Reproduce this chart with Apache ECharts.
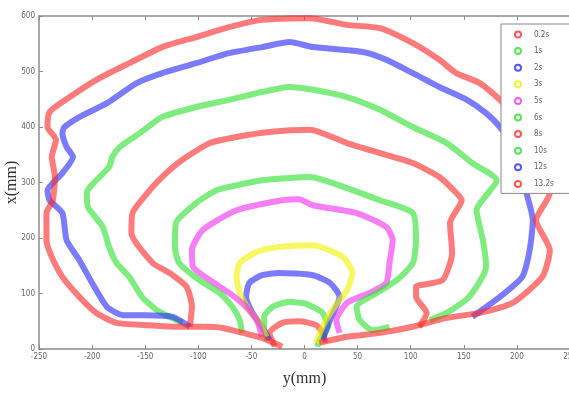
<!DOCTYPE html>
<html>
<head>
<meta charset="utf-8">
<script src="https://cdn.jsdelivr.net/npm/echarts@6.0.0/dist/echarts.min.js"></script>
<style>
    html, body { margin: 0; padding: 0; background: #fff; }
    #chart { width: 569px; height: 394px; }
</style>
</head>
<body>
<div id="chart"></div>
<script>
// 各时刻轮廓线 [y(mm), x(mm)]
var names = ['0.2s', '1s', '2s', '3s', '5s', '6s', '8s', '10s', '12s', '13.2s'];

var t02 = [[-28, 5], [-33, 29], [-21, 47], [-5, 50], [11, 43], [17, 29], [20, 11]];

var t1 = [[-35, 16], [-38, 38], [-38, 58], [-30, 76], [-14, 85], [2, 81], [17, 65], [22, 40], [14, 16], [12, 4]];

var t2 = [[-33, 16], [-40, 40], [-49, 65], [-55, 94], [-52, 119], [-40, 133], [-24, 137], [8, 133],
    [24, 119], [33, 94], [24, 52], [17, 16]];

var t3 = [[-36, 22], [-42, 47], [-52, 70], [-61, 101], [-64, 130], [-61, 155], [-45, 175], [-24, 184],
    [8, 187], [36, 166], [45, 137], [40, 106], [26, 70], [17, 40], [11, 11]];

var t5 = [[-40, 22], [-45, 52], [-55, 76], [-71, 101], [-89, 124], [-105, 148], [-106, 178], [-96, 214],
    [-64, 250], [-21, 268], [-5, 270], [8, 259], [49, 245], [77, 220], [83, 196], [80, 155], [77, 119],
    [61, 101], [40, 83], [30, 52], [33, 29]];

var t6 = [[-59, 29], [-61, 52], [-68, 76], [-80, 101], [-99, 124], [-118, 155], [-122, 184], [-121, 227],
    [-102, 263], [-83, 286], [-71, 292], [-40, 304], [5, 310], [40, 290], [71, 268], [102, 245], [105, 196],
    [102, 155], [87, 124], [68, 101], [49, 76], [52, 52], [64, 34], [80, 40]];

var t8 = [[-108, 40], [-106, 76], [-111, 112], [-127, 137], [-143, 155], [-163, 209], [-162, 245],
    [-151, 274], [-134, 310], [-115, 341], [-89, 371], [-64, 382], [-33, 391], [5, 395], [40, 371],
    [71, 353], [102, 335], [127, 310], [143, 281], [148, 268], [137, 227], [139, 173], [130, 124],
    [105, 112], [105, 94], [115, 65], [108, 40]];

var t10 = [[-115, 47], [-127, 58], [-139, 70], [-153, 94], [-165, 130], [-177, 155], [-184, 184],
    [-190, 220], [-204, 256], [-205, 281], [-184, 328], [-181, 346], [-174, 364], [-155, 389], [-134, 418],
    [-102, 436], [-71, 449], [-40, 463], [-14, 472], [8, 467], [40, 454], [71, 431], [102, 400],
    [134, 371], [158, 335], [181, 304], [162, 250], [168, 196], [171, 148], [155, 94], [134, 65], [118, 52]];

var t12 = [[-108, 40], [-124, 58], [-149, 61], [-171, 61], [-186, 76], [-200, 119], [-212, 160],
    [-224, 196], [-228, 245], [-240, 268], [-242, 286], [-237, 299], [-228, 317], [-218, 346], [-224, 364],
    [-228, 389], [-226, 400], [-212, 418], [-186, 443], [-158, 479], [-134, 497], [-102, 515], [-71, 533],
    [-40, 544], [-14, 553], [8, 544], [55, 535], [77, 521], [102, 497], [127, 472], [153, 449], [171, 425],
    [184, 400], [195, 368], [204, 322], [209, 281], [215, 232], [212, 178], [205, 130], [184, 94], [158, 58]];

var t132 = [[-21, 4], [-40, 20], [-58, 29], [-77, 38], [-96, 40], [-118, 40], [-149, 43], [-177, 47],
    [-196, 65], [-212, 94], [-228, 130], [-238, 166], [-243, 196], [-243, 245], [-237, 268], [-235, 310],
    [-238, 346], [-234, 377], [-242, 400], [-240, 427], [-221, 454], [-196, 485], [-165, 515], [-134, 544],
    [-102, 562], [-71, 580], [-40, 593], [5, 596], [40, 584], [71, 578], [102, 551], [127, 521], [143, 497],
    [165, 479], [184, 449], [202, 404], [218, 340], [229, 295], [231, 281], [218, 232], [231, 178],
    [224, 130], [196, 83], [165, 65], [134, 56], [102, 40], [71, 29], [40, 22], [14, 11]];

var xTicks = [-250, 250, 50];
var yTicks = [0, 600, 100];

var allData = [t02, t1, t2, t3, t5, t6, t8, t10, t12, t132];
var colors = ['#ff2a2a', '#2ee02e', '#2a2aff', '#f2f200', '#f030f0', '#2ee02e', '#ff2a2a', '#2ee02e', '#2a2aff', '#ff2a2a'];

var chart = echarts.init(document.getElementById('chart'));

var tickFont = '"DejaVu Sans Condensed", "Liberation Sans", sans-serif';

var axisCommon = {
    axisLine: { show: true, onZero: false, lineStyle: { color: '#8c8c8c', width: 1.5 } },
    axisTick: { show: true, inside: true, length: 4, lineStyle: { color: '#8c8c8c' } },
    splitLine: { show: false },
    axisLabel: { color: '#666', fontSize: 8, fontFamily: tickFont, margin: 4 }
};

var series = allData.map(function (d, i) {
    return {
        name: names[i],
        type: 'line',
        data: d,
        smooth: 0.2,
        showSymbol: false,
        symbol: 'emptyCircle',
        color: colors[i],
        lineStyle: { width: 6, opacity: 0.62, color: colors[i] },
        silent: true
    };
});

var option = {
    animation: false,
    grid: { left: 39, top: 16, width: 531, height: 333, containLabel: false, outerBoundsMode: 'none' },
    legend: {
        orient: 'vertical',
        left: 501,
        top: 24,
        icon: 'emptyCircle',
        itemWidth: 16,
        itemHeight: 6,
        itemGap: 7.6,
        padding: [6, 30, 5, 13],
        borderColor: '#888',
        borderWidth: 1,
        backgroundColor: '#fff',
        itemStyle: { borderWidth: 1, opacity: 0.8 },
        textStyle: { color: '#666', fontSize: 8, lineHeight: 9, fontFamily: tickFont, padding: [0, 0, 0, 3] },
        data: names
    },
    xAxis: [
        Object.assign({}, axisCommon, {
            type: 'value', min: xTicks[0], max: xTicks[1], interval: xTicks[2],
            name: 'y(mm)', nameLocation: 'middle', nameGap: 22,
            nameTextStyle: { color: '#333', fontSize: 16, fontFamily: 'Liberation Serif' }
        }),
        Object.assign({}, axisCommon, {
            type: 'value', position: 'top', min: xTicks[0], max: xTicks[1], interval: xTicks[2],
            axisLabel: { show: false }
        })
    ],
    yAxis: [
        Object.assign({}, axisCommon, {
            type: 'value', min: yTicks[0], max: yTicks[1], interval: yTicks[2],
            name: 'x(mm)', nameLocation: 'middle', nameGap: 19, nameMoveOverlap: false,
            nameTextStyle: { color: '#333', fontSize: 16, fontFamily: 'Liberation Serif' }
        })
    ],
    series: series
};
chart.setOption(option);
</script>
</body>
</html>
